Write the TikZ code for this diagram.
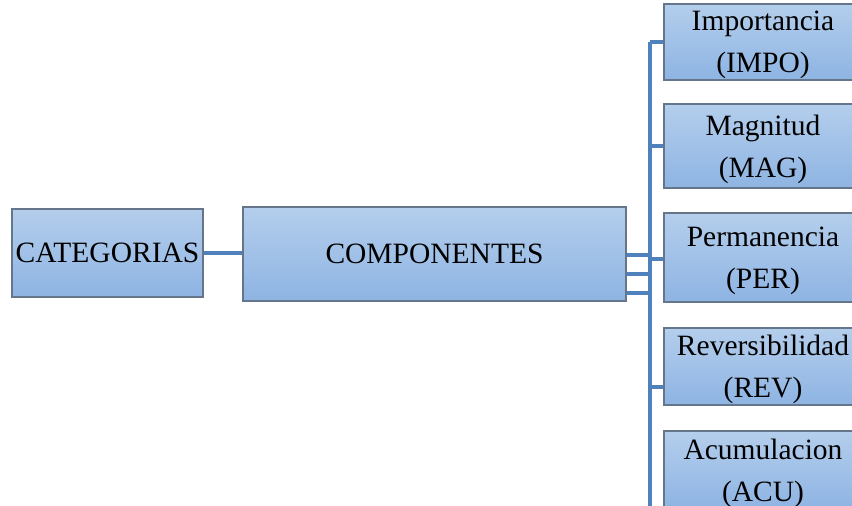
\documentclass[tikz,border=0pt]{standalone}
\usepackage{fontspec}
\setmainfont{Liberation Serif}
\definecolor{boxtop}{HTML}{B4CEEC}
\definecolor{boxbot}{HTML}{8EB4E3}
\definecolor{boxline}{HTML}{65768A}
\definecolor{linkblue}{HTML}{4F81BD}
\tikzset{
  box/.style={rectangle, draw=boxline, line width=1.6pt, top color=boxtop, bottom color=boxbot,
    inner sep=0pt, align=center, font=\fontsize{29.5}{42}\selectfont},
  itembox/.style={box, minimum width=198pt, text depth=0pt},
  link/.style={draw=linkblue, line width=3.2pt}
}
\begin{document}
\begin{tikzpicture}[x=1pt,y=-1pt]
  \useasboundingbox (0,0) rectangle (852,506);
  \clip (0,0) rectangle (852,506);
  \fill[white] (0,0) rectangle (852,506);

  % left-hand boxes
  \node[box, minimum width=191pt, minimum height=88pt] (cat) at (107.5,253) {CATEGORIAS};
  \node[box, minimum width=383pt, minimum height=94pt] (comp) at (434.5,254) {COMPONENTES};

  % right-hand column of components
  \node[itembox, minimum height=76pt] (imp) at (763,42) {Importancia\\(IMPO)};
  \node[itembox, minimum height=84pt] (mag) at (763,146) {Magnitud\\(MAG)};
  \node[itembox, minimum height=89pt] (per) at (763,257.5) {Permanencia\\(PER)};
  \node[itembox, minimum height=77pt] (rev) at (763,366.5) {Reversibilidad\\(REV)};
  \node[itembox, minimum height=78pt] (acu) at (763,470) {Acumulacion\\(ACU)};

  % spine coordinates
  \coordinate (sTop) at (650,42);
  \coordinate (sBot) at (650,510);
  \coordinate (s1) at (650,255);
  \coordinate (s2) at (650,274);
  \coordinate (s3) at (650,293);
  \coordinate (sRev) at (650,387);

  % connectors
  \draw[link] (cat.east) -- (comp.west |- cat.east);
  \draw[link] (comp.east |- s1) -- (s1);
  \draw[link] (comp.east |- s2) -- (s2);
  \draw[link] (comp.east |- s3) -- (s3);
  \draw[link] (sTop) -- (sBot);
  \draw[link] (sTop) -- (imp.west);
  \draw[link] (650,146) -- (mag.west);
  \draw[link] (650,259) -- (per.west |- 0,259);
  \draw[link] (sRev) -- (rev.west |- sRev);
\end{tikzpicture}
\end{document}
